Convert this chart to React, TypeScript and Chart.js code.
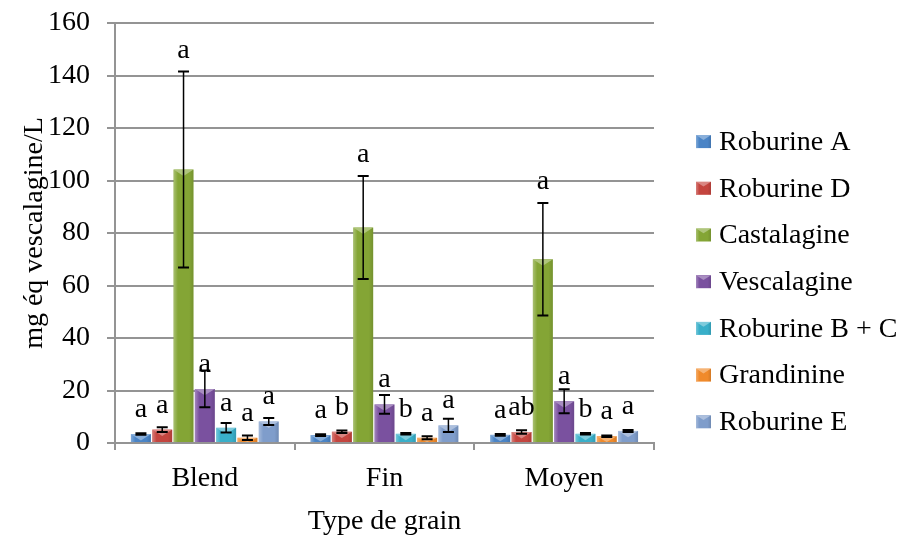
import React, { useEffect, useRef } from 'react';
import { Chart, registerables } from 'chart.js';

Chart.register(...registerables);

// ---------- data ----------
const categories = ['Blend', 'Fin', 'Moyen'];
const seriesNames = ['Roburine A', 'Roburine D', 'Castalagine', 'Vescalagine', 'Roburine B + C', 'Grandinine', 'Roburine E'];

const roburineA = [3.4, 3.0, 3.1];
const roburineD = [5.1, 4.3, 4.2];
const castalagine = [104.2, 82.1, 70.0];
const vescalagine = [20.6, 14.7, 15.9];
const roburineBC = [5.8, 3.5, 3.5];
const grandinine = [2.0, 2.0, 2.6];
const roburineE = [8.2, 6.7, 4.6];

const errRoburineA = [0.3, 0.3, 0.3];
const errRoburineD = [0.9, 0.5, 0.7];
const errCastalagine = [37.3, 19.6, 21.4];
const errVescalagine = [7.0, 3.6, 4.6];
const errRoburineBC = [1.8, 0.3, 0.3];
const errGrandinine = [0.9, 0.6, 0.3];
const errRoburineE = [1.3, 2.5, 0.4];

const letRoburineA = ['a', 'a', 'a'];
const letRoburineD = ['a', 'b', 'ab'];
const letCastalagine = ['a', 'a', 'a'];
const letVescalagine = ['a', 'a', 'a'];
const letRoburineBC = ['a', 'b', 'b'];
const letGrandinine = ['a', 'a', 'a'];
const letRoburineE = ['a', 'a', 'a'];

const yMin = 0;
const yMax = 160;
const yStep = 20;

const yTitle = 'mg éq vescalagine/L';
const xTitle = 'Type de grain';

// ---------- styles ----------
const FONT = "'Liberation Serif', 'Times New Roman', serif";
const FS = 28;
const colors = ['#4A84C6', '#C4453F', '#84A535', '#7A519F', '#39AFC9', '#F08A2B', '#7F9DCB'];
const GRID = '#949494';

const values = [roburineA, roburineD, castalagine, vescalagine, roburineBC, grandinine, roburineE];
const errors = [errRoburineA, errRoburineD, errCastalagine, errVescalagine, errRoburineBC, errGrandinine, errRoburineE];
const letters = [letRoburineA, letRoburineD, letCastalagine, letVescalagine, letRoburineBC, letGrandinine, letRoburineE];

function lighten(hex: string, amt: number) {
  const n = parseInt(hex.slice(1), 16);
  let r = (n >> 16) & 255, g = (n >> 8) & 255, b = n & 255;
  r = Math.round(r + (255 - r) * amt);
  g = Math.round(g + (255 - g) * amt);
  b = Math.round(b + (255 - b) * amt);
  return `rgb(${r},${g},${b})`;
}

function bevel(ctx: CanvasRenderingContext2D, left: number, top: number, w: number, h: number, color: string) {
  if (h <= 0) return;
  ctx.save();
  ctx.beginPath();
  ctx.rect(left, top, w, h);
  ctx.clip();
  const g = ctx.createLinearGradient(left, 0, left + w, 0);
  g.addColorStop(0, 'rgba(255,255,255,0.30)');
  g.addColorStop(0.22, 'rgba(255,255,255,0.0)');
  g.addColorStop(0.78, 'rgba(0,0,0,0.0)');
  g.addColorStop(1, 'rgba(0,0,0,0.12)');
  ctx.fillStyle = g;
  ctx.fillRect(left, top, w, h);
  const d = Math.min(w * 0.32, h);
  ctx.beginPath();
  ctx.moveTo(left, top);
  ctx.lineTo(left + w, top);
  ctx.lineTo(left + w / 2, top + d);
  ctx.closePath();
  ctx.fillStyle = lighten(color, 0.35);
  ctx.fill();
  ctx.restore();
}

const extrasPlugin = {
  id: 'extras',
  afterDatasetsDraw(chart: any) {
    const ctx: CanvasRenderingContext2D = chart.ctx;
    const yScale = chart.scales.y;
    chart.data.datasets.forEach((ds: any, i: number) => {
      const meta = chart.getDatasetMeta(i);
      meta.data.forEach((el: any) => {
        const p = el.getProps(['x', 'y', 'base', 'width'], true);
        const left = p.x - p.width / 2;
        bevel(ctx, left, p.y, p.width, p.base - p.y, colors[i]);
      });
    });
    chart.data.datasets.forEach((ds: any, i: number) => {
      const meta = chart.getDatasetMeta(i);
      meta.data.forEach((el: any, j: number) => {
        const p = el.getProps(['x', 'y', 'base', 'width'], true);
        const v = ds.data[j];
        const e = errors[i][j];
        const yT = yScale.getPixelForValue(v + e);
        const yB = yScale.getPixelForValue(v - e);
        const cap = 5.5;
        ctx.save();
        ctx.strokeStyle = '#000';
        ctx.lineWidth = 1.5;
        ctx.beginPath();
        ctx.moveTo(p.x, yT);
        ctx.lineTo(p.x, yB);
        ctx.stroke();
        ctx.lineWidth = 2;
        ctx.beginPath();
        ctx.moveTo(p.x - cap, yT);
        ctx.lineTo(p.x + cap, yT);
        ctx.moveTo(p.x - cap, yB);
        ctx.lineTo(p.x + cap, yB);
        ctx.stroke();
        const errPx = yB - yT;
        const baseY = errPx > 60 ? yT - 14 : p.y - 17;
        ctx.fillStyle = '#000';
        ctx.font = `${FS}px ${FONT}`;
        ctx.textAlign = 'center';
        ctx.textBaseline = 'alphabetic';
        ctx.fillText(letters[i][j], p.x, baseY);
        ctx.restore();
      });
    });
  },
  afterDraw(chart: any) {
    const ctx: CanvasRenderingContext2D = chart.ctx;
    const area = chart.chartArea;
    const bx = area.right + 42;
    const pitch = 46.7;
    const n = chart.data.datasets.length;
    const cy0 = 281.7 - pitch * (n - 1) / 2;
    ctx.save();
    ctx.font = `${FS}px ${FONT}`;
    ctx.textBaseline = 'middle';
    ctx.textAlign = 'left';
    chart.data.datasets.forEach((ds: any, i: number) => {
      const cy = cy0 + i * pitch;
      const bw = 15, bh = 13;
      ctx.fillStyle = colors[i];
      ctx.fillRect(bx, cy - bh / 2, bw, bh);
      bevel(ctx, bx, cy - bh / 2, bw, bh, colors[i]);
      ctx.fillStyle = '#000';
      ctx.fillText(ds.label, bx + bw + 8, cy + 1);
    });
    ctx.restore();
  },
};

export default function App() {
  const ref = useRef<HTMLCanvasElement | null>(null);
  useEffect(() => {
    document.body.style.margin = '0';
    const canvas = ref.current;
    if (!canvas) return;
    const chart = new Chart(canvas, {
      type: 'bar',
      data: {
        labels: categories,
        datasets: seriesNames.map((name, i) => ({
          label: name,
          data: values[i],
          backgroundColor: colors[i],
          borderWidth: 0,
          categoryPercentage: 0.83,
          barPercentage: 0.94,
        })),
      },
      options: {
        responsive: false,
        animation: false,
        devicePixelRatio: 1,
        layout: { padding: { top: 23, right: 253, bottom: 0, left: 0 } },
        plugins: {
          legend: { display: false },
          tooltip: { enabled: false },
        },
        scales: {
          x: {
            grid: { display: true, drawOnChartArea: false, drawTicks: true, tickLength: 7, color: GRID, lineWidth: 2, offset: true },
            border: { display: true, color: GRID, width: 2 },
            ticks: { color: '#000', font: { family: FONT, size: FS }, padding: 12 },
            title: { display: true, text: xTitle, color: '#000', font: { family: FONT, size: FS, lineHeight: 1.2 }, padding: { top: 0, bottom: 1 } },
            afterFit: (s: any) => { s.height = 96; s.paddingLeft = 0; s.paddingRight = 0; },
          },
          y: {
            min: yMin,
            max: yMax,
            ticks: { stepSize: yStep, color: '#000', font: { family: FONT, size: FS }, padding: 17 },
            grid: { color: GRID, lineWidth: 2, tickLength: 8, drawTicks: true },
            border: { display: true, color: GRID, width: 2 },
            title: { display: true, text: yTitle, color: '#000', font: { family: FONT, size: FS, lineHeight: 1.2 }, padding: { top: 18, bottom: 0 } },
            afterFit: (s: any) => { s.width = 115; s.paddingTop = 5; s.paddingBottom = 5; },
          },
        },
      },
      plugins: [extrasPlugin],
    });
    return () => chart.destroy();
  }, []);
  return (
    <div style={{ width: 907, height: 539 }}>
      <canvas ref={ref} width={907} height={539} style={{ display: 'block' }} />
    </div>
  );
}
